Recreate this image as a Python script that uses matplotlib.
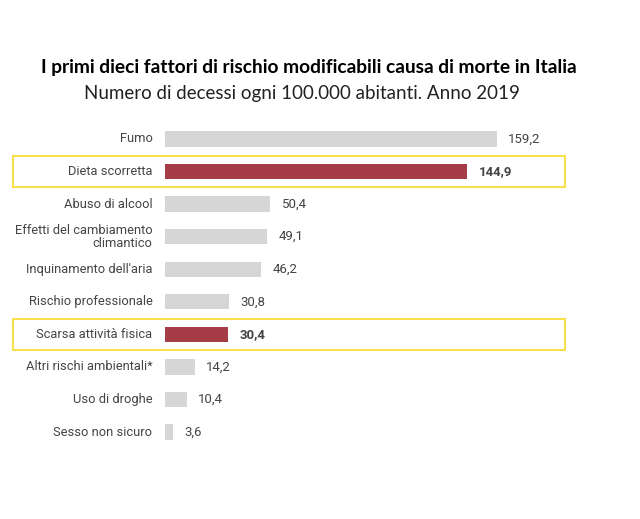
import matplotlib
matplotlib.use("Agg")
import matplotlib.pyplot as plt
from matplotlib.patches import Rectangle
from matplotlib.transforms import blended_transform_factory

# dati: decessi ogni 100.000 abitanti, Italia 2019
categorie = ["Fumo", "Dieta scorretta", "Abuso di alcool",
             "Effetti del cambiamento\nclimantico", "Inquinamento dell'aria",
             "Rischio professionale", "Scarsa attività fisica",
             "Altri rischi ambientali*", "Uso di droghe", "Sesso non sicuro"]
valori = [159.2, 144.9, 50.4, 49.1, 46.2, 30.8, 30.4, 14.2, 10.4, 3.6]
evidenziati = [1, 6]

grigio = "#d6d6d6"
rosso = "#a63c46"
giallo = "#f7e04b"
testo = "#444444"

fig = plt.figure(figsize=(6.4, 5.19), dpi=100)
W, H = 640, 519
# asse: x da 165 a 565 px, y da 122.7 a 448.3 px
ax = fig.add_axes([165 / W, 1 - 448.3 / H, 400 / W, (448.3 - 122.7) / H])

y = list(range(len(valori)))
colori = [rosso if i in evidenziati else grigio for i in y]
ax.barh(y, valori, height=0.47, color=colori)
ax.set_xlim(0, 400 / 2.085)
ax.set_ylim(len(valori) - 0.5, -0.5)
ax.axis("off")

for i, (c, v) in enumerate(zip(categorie, valori)):
    peso = "bold" if i in evidenziati else "normal"
    ax.text(-6, i, c, ha="right", va="center", fontsize=9.3,
            family="Roboto", color=testo, linespacing=1.0)
    ax.text(v + 5.5, i, f"{v:.1f}".replace(".", ","), ha="left", va="center",
            fontsize=9.5, family="Roboto", color=testo, weight=peso)

trans = blended_transform_factory(ax.transAxes, ax.transData)
for i in evidenziati:
    ax.add_patch(Rectangle(((13 - 165) / 400, i - 0.48), (565 - 13) / 400, 0.96,
                           transform=trans, fill=False, edgecolor=giallo,
                           linewidth=1.5, clip_on=False))

fig.text(309 / W, 1 - 68 / H,
         "I primi dieci fattori di rischio modificabili causa di morte in Italia",
         ha="center", va="center", fontsize=13.8, weight="bold", family="Lato",
         color="black")
fig.text(302 / W, 1 - 94 / H,
         "Numero di decessi ogni 100.000 abitanti. Anno 2019",
         ha="center", va="center", fontsize=13.5, family="Lato", color="#222222")

fig.savefig("out.png", dpi=100)
